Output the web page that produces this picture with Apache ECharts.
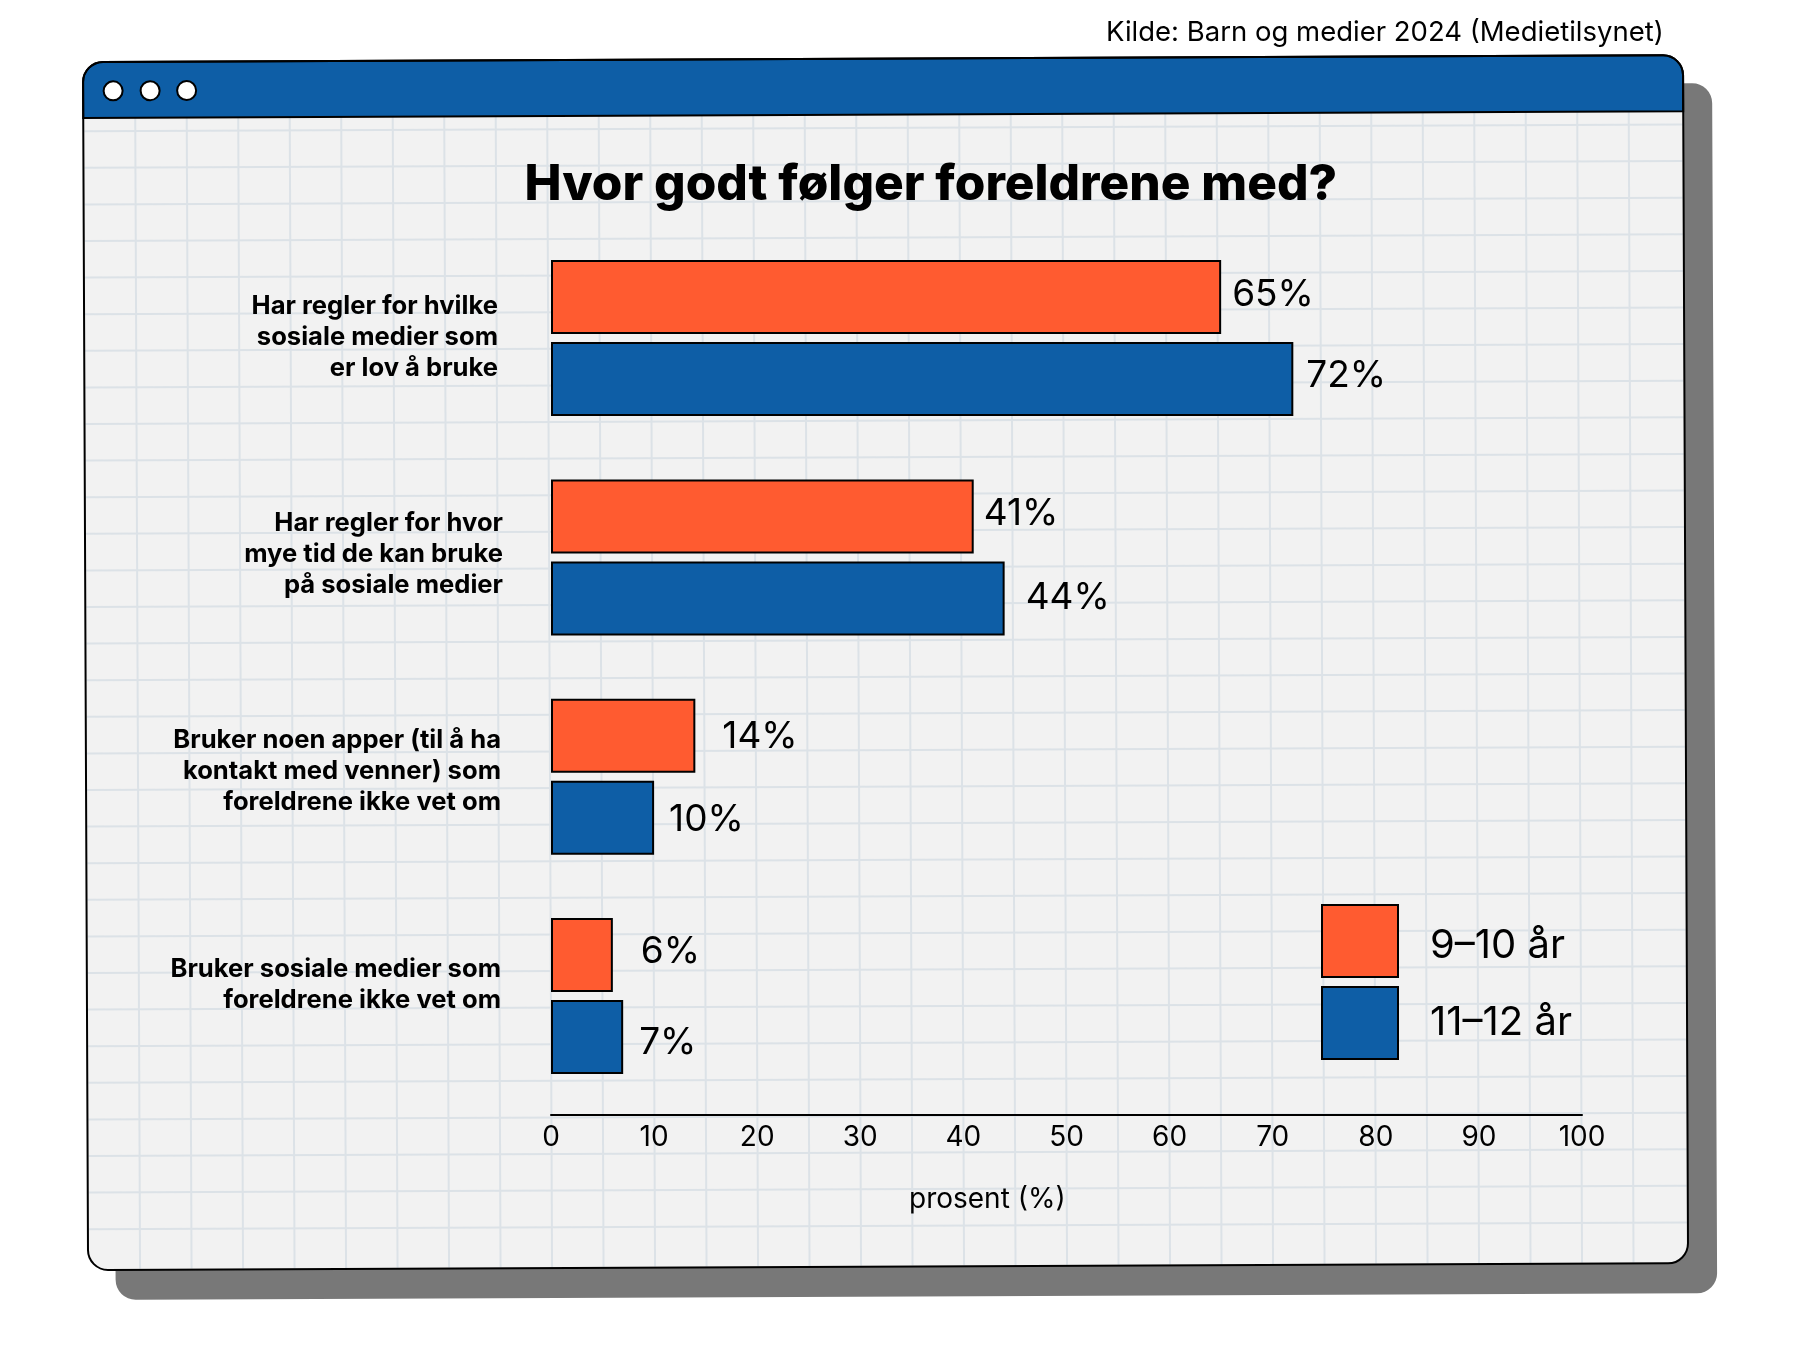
<!DOCTYPE html>
<html><head><meta charset="utf-8">
<style>html,body{margin:0;padding:0;background:#fff}#c{width:1804px;height:1356px}</style>
<script src="https://cdn.jsdelivr.net/npm/echarts@6/dist/echarts.min.js"></script>
</head><body><div id="c"></div>
<script>
const categories = [
  "Har regler for hvilke\nsosiale medier som\ner lov å bruke",
  "Har regler for hvor\nmye tid de kan bruke\npå sosiale medier",
  "Bruker noen apper (til å ha\nkontakt med venner) som\nforeldrene ikke vet om",
  "Bruker sosiale medier som\nforeldrene ikke vet om"
];
const seriesNames = ["9–10 år", "11–12 år"];
const values910 = [65, 41, 14, 6];
const values1112 = [72, 44, 10, 7];
const xTicks = [0, 10, 20, 30, 40, 50, 60, 70, 80, 90, 100];

// layout-only tweaks
const labelOffset910 = [[11,-2.5],[10,-3],[27,1],[28,-3]];
const labelOffset1112 = [[13,-3],[21,-1],[15,2],[16,6]];
const catRightPad = [5, 0, 2, 2];
const catUpShift = [0.5, 3.5, 5, 11.5];

const ORANGE = '#FF5B30', BLUE = '#0E5EA6', INK = '#000', FONT = 'Inter';
const WIN_W = 1600, WIN_H = 1208, TILT = 0.0042;

function paperLines() {
  const out = [];
  const line = { stroke: '#DCE2E7', lineWidth: 2 };
  for (let x = 52; x < WIN_W - 10; x += 51.5)
    out.push({ type:'line', z:-8, shape:{x1:x,y1:56,x2:x,y2:WIN_H-1}, style:line, silent:true });
  for (let y = 69.2; y < WIN_H - 10; y += 36.6)
    out.push({ type:'line', z:-8, shape:{x1:1,y1:y,x2:WIN_W-1,y2:y}, style:line, silent:true });
  return out;
}
const dots = [30, 67, 103.5].map(x => ({
  type:'circle', z:-5, shape:{cx:x,cy:29,r:9.5}, style:{fill:'#fff',stroke:INK,lineWidth:2}, silent:true
}));

const rich = {};
categories.forEach((c,i) => {
  rich['l'+i] = { fontFamily:FONT, fontWeight:700, fontSize:25.6, lineHeight:31, color:INK, align:'right',
                  padding:[0,catRightPad[i],0,0] };
  rich['s'+i] = { fontSize:1, lineHeight:catUpShift[i]*2, height:catUpShift[i]*2 };
});

function makeData(vals, offs) {
  return vals.map((v,i) => ({ value:v, label:{ offset:offs[i] } }));
}
function barSeries(name, color, data) {
  return {
    name, type:'bar', barWidth:74, barGap:'10.8%',
    itemStyle:{ color, borderColor:INK, borderWidth:2 },
    label:{ show:true, position:'right', distance:0, formatter:p => p.value+'%',
            fontFamily:FONT, fontSize:37, color:INK },
    data
  };
}

const chart = echarts.init(document.getElementById('c'), null, {renderer:'canvas'});
chart.setOption({
  backgroundColor:'#fff',
  animation:false,
  title:{ text:'Hvor godt følger foreldrene med?', left:519.5, top:155,
    textStyle:{ fontFamily:FONT, fontWeight:800, fontSize:49.5, color:INK } },
  legend:{ orient:'vertical', left:1321, top:904, padding:0, icon:'rect', itemWidth:76, itemHeight:72, itemGap:8,
    selectedMode:false, data:seriesNames,
    formatter:n => n===seriesNames[0] ? '{s| }\n{t|'+n+'}' : '{t|'+n+'}',
    textStyle:{ fontFamily:FONT, fontSize:40, color:INK, padding:[0,0,0,27],
      rich:{ s:{ fontSize:1, lineHeight:9, height:9 },
             t:{ fontFamily:FONT, fontSize:40, color:INK, lineHeight:48 } } } },
  grid:{ left:551, right:222, top:228.4, bottom:250.3, containLabel:false },
  xAxis:{ type:'value', min:0, max:100, interval:10, offset:9,
    axisLine:{ show:true, lineStyle:{ color:INK, width:2 } },
    axisTick:{ show:false }, splitLine:{ show:false },
    axisLabel:{ fontFamily:FONT, fontSize:28, color:INK, margin:9,
      customValues:xTicks } },
  yAxis:{ type:'category', inverse:true, data:categories,
    axisLine:{ show:false }, axisTick:{ show:false },
    axisLabel:{ margin:48, rich, align:'right',
      formatter:(v,i) => v.split('\n').map(s=>'{l'+i+'|'+s+'}').join('\n')+'\n{s'+i+'| }' } },
  series:[
    barSeries(seriesNames[0], ORANGE, makeData(values910,labelOffset910)),
    barSeries(seriesNames[1], BLUE, makeData(values1112,labelOffset1112))
  ],
  graphic:[
    { type:'text', z:5, left:1106, top:18.5, style:{ text:'Kilde: Barn og medier 2024 (Medietilsynet)', font:'27.5px Inter', fill:INK } },
    { type:'text', z:5, left:909, top:1186, style:{ text:'prosent (%)', font:'28px Inter', fill:INK } },
    { type:'group', x:83, y:62, rotation:TILT, silent:true, children:[
      { type:'rect', z:-10, shape:{x:27.5,y:28,width:WIN_W+1.5,height:WIN_H+2,r:20}, style:{fill:'#787878'} },
      { type:'rect', z:-9, shape:{x:0,y:0,width:WIN_W,height:WIN_H,r:20}, style:{fill:'#F2F2F2'} },
      ...paperLines(),
      { type:'rect', z:-7, shape:{x:0,y:0,width:WIN_W,height:56,r:[20,20,0,0]}, style:{fill:BLUE,stroke:INK,lineWidth:2} },
      { type:'rect', z:-6, shape:{x:0,y:0,width:WIN_W,height:WIN_H,r:20}, style:{fill:'none',stroke:INK,lineWidth:2} },
      ...dots
    ]}
  ]
});
</script></body></html>
